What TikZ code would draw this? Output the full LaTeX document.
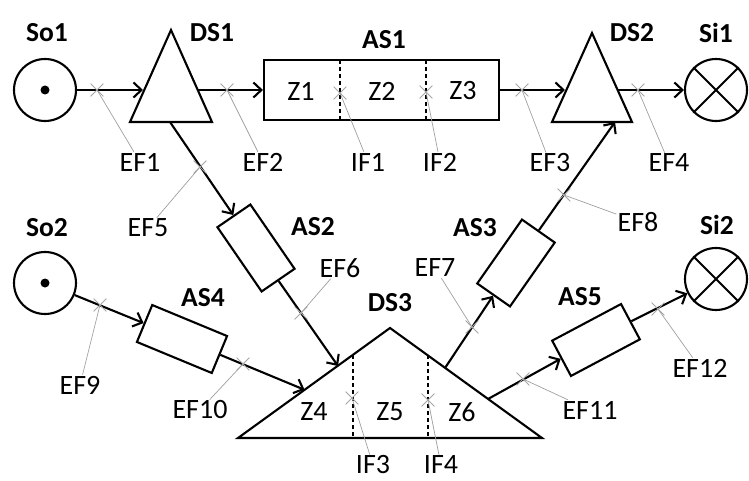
\documentclass[tikz,border=0pt]{standalone}
\usepackage{fontspec}
\setmainfont{Carlito}
\usetikzlibrary{arrows.meta,shapes.misc}
\begin{document}
\begin{tikzpicture}[x=1pt,y=-1pt,
  bold line/.style={line width=2.1pt},
  arr/.style={line width=2.1pt,-{Straight Barb[length=8pt,width=15pt]}},
  lbl/.style={font=\fontsize{27.5}{30}\selectfont\bfseries,inner sep=0pt},
  txt/.style={font=\fontsize{28}{30}\selectfont,inner sep=1pt},
  blk/.style={draw,line width=2.1pt,minimum width=78pt,minimum height=40pt,inner sep=0pt},
  src/.style={draw,circle,line width=2.1pt,minimum size=62pt,inner sep=0pt},
  xmark/.style={cross out,draw=gray!70,line width=0.8pt,minimum size=12pt,inner sep=0pt},
  leader/.style={draw=gray!75,line width=0.7pt},
  zone/.style={line width=1.3pt,dash pattern=on 4pt off 3pt}
]
\useasboundingbox (0,0) rectangle (749,481);

% ---- sources and sinks
\node[src] (So1) at (45,90) {};
\fill (So1.center) circle (4.5);
\node[src] (So2) at (45,283) {};
\fill (So2.center) circle (4.5);
\node[src] (Si1) at (716,90) {};
\draw[bold line] (Si1.north west) -- (Si1.south east) (Si1.north east) -- (Si1.south west);
\node[src] (Si2) at (716,279) {};
\draw[bold line] (Si2.north west) -- (Si2.south east) (Si2.north east) -- (Si2.south west);

% ---- DS1
\coordinate (D1t) at (171,30);
\coordinate (D1l) at (130,122);
\coordinate (D1r) at (212,122);
\draw[bold line,line join=miter] (D1t) -- (D1l) -- (D1r) -- cycle;
\coordinate (D1in) at (143,90);
\coordinate (D1out) at (198,90);
\coordinate (D1b) at (170,122);

% ---- DS2
\coordinate (D2t) at (592,33);
\coordinate (D2l) at (552,122);
\coordinate (D2r) at (632,122);
\draw[bold line,line join=miter] (D2t) -- (D2l) -- (D2r) -- cycle;
\coordinate (D2in) at (565,90);
\coordinate (D2out) at (618,90);
\coordinate (D2b) at (615,122);

% ---- DS3
\coordinate (D3t) at (390,328);
\coordinate (D3l) at (238,438);
\coordinate (D3r) at (542,438);
\draw[bold line,line join=miter] (D3t) -- (D3l) -- (D3r) -- cycle;
\draw[zone] (353,355) -- (353,438);
\draw[zone] (428,355) -- (428,438);
\coordinate (D3a) at (338,366);
\coordinate (D3c) at (304.6,389.8);
\coordinate (D3o1) at (445,368);
\coordinate (D3o2) at (488,399);

% ---- AS1
\node[draw,line width=2.1pt,minimum width=235pt,minimum height=60pt,inner sep=0pt] (AS1) at (381.5,90) {};
\draw[zone] (340,60) -- (340,120);
\draw[zone] (426,60) -- (426,120);

% ---- rotated AS blocks
\node[blk,rotate=-55.5] (AS2) at (256,248) {};
\node[blk,rotate=55] (AS3) at (516,263) {};
\node[blk,rotate=-22.5,minimum width=81pt] (AS4) at (182,339) {};
\node[blk,rotate=28] (AS5) at (596,340) {};

% ---- connectors
\draw[arr] (So1) -- (D1in);
\draw[arr] (D1out) -- (AS1.west);
\draw[arr] (AS1.east) -- (D2in);
\draw[arr] (D2out) -- (Si1);
\draw[arr] (D1b) -- (AS2.west);
\draw[arr] (AS2.east) -- (D3a);
\draw[arr] (So2) -- (AS4.west);
\draw[arr] (AS4.east) -- (D3c);
\draw[arr] (D3o1) -- (AS3.west);
\draw[arr] (AS3.east) -- (D2b);
\draw[arr] (D3o2) -- (AS5.west);
\draw[arr] (AS5.east) -- (Si2);

% ---- bold labels
\node[lbl] (lSo1) at (47,33) {So1};
\node[lbl] (lDS1) at (212,33) {DS1};
\node[lbl] (lAS1) at (384,40) {AS1};
\node[lbl] (lDS2) at (632,33) {DS2};
\node[lbl] (lSi1) at (716,33) {Si1};
\node[lbl] (lSo2) at (47,228) {So2};
\node[lbl] (lAS2) at (313,227) {AS2};
\node[lbl] (lAS4) at (203,298) {AS4};
\node[lbl] (lDS3) at (390,303) {DS3};
\node[lbl] (lAS3) at (475,228) {AS3};
\node[lbl] (lAS5) at (580,297) {AS5};
\node[lbl] (lSi2) at (717,225) {Si2};

% ---- zone labels
\node[txt] (z1) at (301,91) {Z1};
\node[txt] (z2) at (382,91) {Z2};
\node[txt] (z3) at (463,91) {Z3};
\node[txt] (z4) at (314,412) {Z4};
\node[txt] (z5) at (390,412) {Z5};
\node[txt] (z6) at (462,412) {Z6};

% ---- flow marks
\node[xmark] (x1) at (97,90) {};
\node[xmark] (x2) at (227,90) {};
\node[xmark] (x3) at (522,90) {};
\node[xmark] (x4) at (638,90) {};
\node[xmark] (x5) at (200,167) {};
\node[xmark] (x6) at (301,313) {};
\node[xmark] (x7) at (472,327) {};
\node[xmark] (x8) at (564,195) {};
\node[xmark] (x9) at (100,305) {};
\node[xmark] (x10) at (243,364) {};
\node[xmark] (x11) at (523,379) {};
\node[xmark] (x12) at (658,309) {};
\node[xmark] (i1) at (340,93) {};
\node[xmark] (i2) at (426,92) {};
\node[xmark] (i3) at (352,398) {};
\node[xmark] (i4) at (428,400) {};

\node[txt] (e1) at (140,162) {EF1};
\node[txt] (e2) at (263,162) {EF2};
\node[txt] (e3) at (550,163) {EF3};
\node[txt] (e4) at (669,163) {EF4};
\node[txt] (e5) at (148,228) {EF5};
\node[txt] (e6) at (340,268) {EF6};
\node[txt] (e7) at (435,268) {EF7};
\node[txt] (e8) at (638,222) {EF8};
\node[txt] (e9) at (80,385) {EF9};
\node[txt] (e10) at (200,410) {EF10};
\node[txt] (e11) at (590,410) {EF11};
\node[txt] (e12) at (700,368) {EF12};
\node[txt] (f1) at (368,162) {IF1};
\node[txt] (f2) at (440,162) {IF2};
\node[txt] (f3) at (373,465) {IF3};
\node[txt] (f4) at (441,465) {IF4};

\draw[leader] (e1) -- (x1.center);
\draw[leader] (e2) -- (x2.center);
\draw[leader] (e3) -- (x3.center);
\draw[leader] (e4) -- (x4.center);
\draw[leader] (e5) -- (x5.center);
\draw[leader] (e6) -- (x6.center);
\draw[leader] (e7) -- (x7.center);
\draw[leader] (e8) -- (x8.center);
\draw[leader] (e9) -- (x9.center);
\draw[leader] (e10) -- (x10.center);
\draw[leader] (e11) -- (x11.center);
\draw[leader] (e12) -- (x12.center);
\draw[leader] (f1) -- (i1.center);
\draw[leader] (f2) -- (i2.center);
\draw[leader] (f3) -- (i3.center);
\draw[leader] (f4) -- (i4.center);
\end{tikzpicture}
\end{document}
